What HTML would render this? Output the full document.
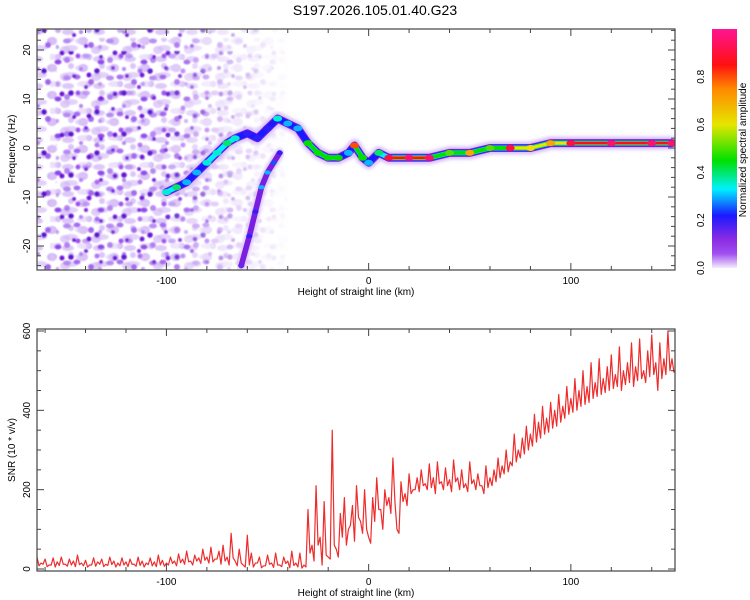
<!DOCTYPE html>
<html><head><meta charset="utf-8"><style>
body{margin:0;background:#fff;}
svg{display:block;font-family:"Liberation Sans",sans-serif;}
</style></head><body>
<svg id="chart" width="750" height="600" viewBox="0 0 750 600">
<defs>
<filter id="blur1"><feGaussianBlur stdDeviation="1.6"/></filter>
<filter id="blur2"><feGaussianBlur stdDeviation="0.8"/></filter>
<pattern id="noiseA" width="31" height="27" patternUnits="userSpaceOnUse">
<ellipse cx="6" cy="5" rx="6" ry="3" fill="#dcc6f8"/><ellipse cx="21" cy="14" rx="5" ry="4" fill="#d2b6f6"/><ellipse cx="9" cy="21" rx="7" ry="3" fill="#e2d0fa"/><circle cx="27" cy="3" r="3" fill="#c8a8f4"/>
</pattern>
<pattern id="noiseB" width="43" height="37" patternUnits="userSpaceOnUse">
<circle cx="5" cy="8" r="3" fill="#a064ee"/><ellipse cx="24" cy="4" rx="4" ry="2.5" fill="#b488f2"/><circle cx="35" cy="19" r="2.5" fill="#9b4cf0"/>
<ellipse cx="15" cy="25" rx="3.5" ry="2.5" fill="#8e44ec"/><circle cx="38" cy="32" r="2" fill="#b080f0"/>
</pattern>
<pattern id="noiseC" width="53" height="41" patternUnits="userSpaceOnUse">
<circle cx="9" cy="12" r="2.5" fill="#6a10d8"/><circle cx="33" cy="5" r="2" fill="#7a20e0"/><circle cx="44" cy="30" r="2.8" fill="#5f0fd0"/><circle cx="21" cy="35" r="2" fill="#7418dc"/>
</pattern>
<linearGradient id="fadeg" x1="0" x2="1" y1="0" y2="0">
<stop offset="0" stop-color="#fff" stop-opacity="1"/><stop offset="0.5" stop-color="#fff" stop-opacity="0.95"/><stop offset="0.75" stop-color="#fff" stop-opacity="0.4"/><stop offset="1" stop-color="#fff" stop-opacity="0"/>
</linearGradient>
<mask id="fadem"><rect x="37" y="29" width="253" height="241" fill="url(#fadeg)"/></mask>
<linearGradient id="cbar" x1="0" x2="0" y1="1" y2="0">
<stop offset="0" stop-color="#f4ecfd"/><stop offset="0.06" stop-color="#a050f0"/><stop offset="0.12" stop-color="#8a2be2"/>
<stop offset="0.22" stop-color="#1a1aff"/><stop offset="0.33" stop-color="#00f0ff"/><stop offset="0.45" stop-color="#00e000"/>
<stop offset="0.6" stop-color="#e6e600"/><stop offset="0.75" stop-color="#ff8800"/><stop offset="0.85" stop-color="#ff1010"/><stop offset="1" stop-color="#ff1493"/>
</linearGradient>
<clipPath id="clipTop"><rect x="37" y="29" width="638" height="241"/></clipPath>
<clipPath id="clipBot"><rect x="37" y="329" width="638" height="242"/></clipPath>
</defs>
<text x="375" y="15" text-anchor="middle" font-size="14">S197.2026.105.01.40.G23</text>
<g id="top"></g>
<g id="cb"></g>
<g id="bot"></g>
</svg>
<script>
// ---- data ----
const ridgeHeights = [-100,-95,-90,-85,-80,-75,-70,-66,-60,-55,-50,-45,-40,-35,-30,-25,-20,-15,-10,-7,-3,0,5,10,20,30,40,50,60,70,80,90,100,120,140,150];
const ridgeFreqs   = [-9,-8,-7,-5,-3,-1,1,2,3,2,4,6,5,4,1,-1,-2,-2,-1,0.5,-2,-3,-1,-2,-2,-2,-1,-1,0,0,0,1,1,1,1,1];
const ridgeAmps    = [0.35,0.4,0.3,0.3,0.35,0.35,0.4,0.35,0.2,0.2,0.2,0.35,0.3,0.3,0.45,0.45,0.45,0.45,0.3,0.8,0.45,0.3,0.4,0.9,0.95,0.95,0.5,0.7,0.5,0.9,0.6,0.7,0.9,0.95,0.95,0.95];
const branchHeights = [-63,-59,-56,-53,-50,-47,-44];
const branchFreqs   = [-24,-18,-13,-8,-5,-3,-1];
const branchAmps    = [0.15,0.2,0.2,0.3,0.3,0.25,0.2];
const snrStart = -164, snrStep = 2;
const snrValues = [30,15,25,10,28,18,30,12,25,20,35,15,22,10,28,18,25,12,30,20,15,28,18,25,12,30,20,15,28,18,35,22,15,30,20,38,25,45,20,35,28,50,30,55,25,45,60,30,90,20,50,10,85,40,15,30,8,35,15,40,10,30,20,45,15,40,10,150,60,210,80,170,30,350,50,140,180,100,160,210,120,200,80,180,230,150,200,180,280,100,220,190,240,200,230,250,215,265,230,270,220,255,225,275,230,250,215,270,225,240,210,260,230,250,280,260,300,270,340,300,330,360,340,390,370,410,380,420,400,440,410,460,430,480,450,500,460,520,470,530,480,510,540,490,560,500,520,570,510,580,500,550,590,520,570,530,600,530];
const snrLow = [8,12,6,10,5,9,12,7,10,6,11,8,5,10,7,12,6,9,11,5,8,10,6,12,7,9,5,11,8,6,10,7,
10,14,8,16,12,18,10,20,14,22,15,18,25,12,20,10,28,8,15,5,
10,5,15,3,8,12,4,10,6,14,3,9,5,2,
5,40,20,60,10,35,25,
60,30,80,60,110,70,130,90,100,65,
120,150,100,160,140,170,90,170,160,190,
200,195,210,200,205,190,215,200,210,195,220,200,205,195,215,200,210,190,205,210,
220,230,240,245,260,270,280,290,300,310,320,330,340,345,355,360,370,380,390,395,
400,410,415,420,430,435,440,445,450,455,460,450,465,470,460,475,480,470,485,490,450,480,490,500,495];
const xTickLabels = [-100,0,100];
const fTickLabels = [-20,-10,0,10,20];
const snrTickLabels = [0,200,400,600];
const cbTickLabels = [0.0,0.2,0.4,0.6,0.8];

// ---- axes ----
const X0=37, X1=675;
const xMin=-164, xMax=151.5;
const xs = v => X0 + (v - xMin)/(xMax - xMin)*(X1 - X0);
const fs = v => 148 - v*4.9;
const ss = v => 569 - v*(238/600);
const cs = v => 268 - v*239;
const NS="http://www.w3.org/2000/svg";
function mk(tag, attrs, parent){const e=document.createElementNS(NS,tag);for(const k in attrs)e.setAttribute(k,attrs[k]);parent.appendChild(e);return e;}
function cmap(a){
  const st=[[0,[244,236,253]],[0.06,[160,80,240]],[0.12,[138,43,226]],[0.22,[26,26,255]],[0.33,[0,240,255]],[0.45,[0,224,0]],[0.6,[230,230,0]],[0.75,[255,136,0]],[0.85,[255,16,16]],[1,[255,20,147]]];
  a=Math.max(0,Math.min(1,a));
  for(let i=1;i<st.length;i++){if(a<=st[i][0]){const t=(a-st[i-1][0])/(st[i][0]-st[i-1][0]);const c=st[i-1][1].map((v,j)=>Math.round(v+(st[i][1][j]-v)*t));return `rgb(${c})`;}}
  return 'rgb(255,20,147)';
}

const topG=document.getElementById('top');
// noise background (texture)
const nz=mk('g',{'clip-path':'url(#clipTop)'},topG);


const nzm=mk('g',{mask:'url(#fadem)',filter:'url(#blur2)'},nz);
mk('rect',{x:37,y:29,width:253,height:241,fill:'url(#noiseA)'},nzm);
mk('rect',{x:37,y:29,width:253,height:241,fill:'url(#noiseA)',transform:'translate(13,9)',opacity:'0.7'},nzm);
mk('rect',{x:37,y:29,width:253,height:241,fill:'url(#noiseB)'},nzm);
mk('rect',{x:37,y:29,width:253,height:241,fill:'url(#noiseB)',transform:'translate(19,15)',opacity:'0.8'},nzm);
mk('rect',{x:37,y:29,width:253,height:241,fill:'url(#noiseC)'},nzm);
mk('rect',{x:37,y:29,width:253,height:241,fill:'url(#noiseC)',transform:'translate(27,22)'},nzm);

function drawRidge(H,F,A,name,w){
  const g=mk('g',{'clip-path':'url(#clipTop)'},topG);
  
  
  const pts=H.map((h,i)=>xs(h)+','+fs(F[i])).join(' ');
  mk('polyline',{points:pts,fill:'none',stroke:'#d8c0f8',"stroke-width":13*w,"stroke-linejoin":'round',"stroke-linecap":'round',filter:'url(#blur1)'},g);
  mk('polyline',{points:pts,fill:'none',stroke:'#7a1fe0',"stroke-width":8*w,"stroke-linejoin":'round',"stroke-linecap":'round'},g);
  if(w>0.8)mk('polyline',{points:pts,fill:'none',stroke:'#1a1aff',"stroke-width":6,"stroke-linejoin":'round',"stroke-linecap":'round'},g);
  const layers=[[0.33,5],[0.45,4],[0.6,3.2],[0.75,2.8],[0.85,2.6]];
  for(let i=0;i<H.length-1;i++){
    const a=Math.min(A[i],A[i+1]);
    layers.forEach(([lv,sw])=>{
      if(a<lv)return;
      const s1=mk('line',{x1:xs(H[i]),y1:fs(F[i]),x2:xs(H[i+1]),y2:fs(F[i+1]),stroke:cmap(lv),"stroke-width":sw,"stroke-linecap":'round'},g);
      
      
    });
  }
  H.forEach((h,i)=>{
    const c=mk('ellipse',{cx:xs(h),cy:fs(F[i]),rx:4.5*w,ry:3*w,fill:cmap(A[i])},g);
    
    
  });
}
drawRidge(branchHeights,branchFreqs,branchAmps,'secondary-ridge',0.7);
drawRidge(ridgeHeights,ridgeFreqs,ridgeAmps,'main-ridge',1);

function frame(parent,y0,y1,nameX){
  const f=mk('rect',{x:X0,y:y0,width:X1-X0,height:y1-y0,fill:'none',stroke:'#444',"stroke-width":1.2},parent);
  
  
  for(let v=-160;v<=150;v+=20){
    const x=xs(v);const major=(v%100===0);const L=major?7:4;
    mk('line',{x1:x,y1:y1,x2:x,y2:y1-L,stroke:'#444'},parent);
    mk('line',{x1:x,y1:y0,x2:x,y2:y0+L,stroke:'#444'},parent);
  }
  xTickLabels.forEach(v=>{
    const t=mk('text',{x:xs(v),y:y1+14,"text-anchor":'middle',"font-size":10},parent);t.textContent=v;
    
    
  });
  const xt=mk('text',{x:356,y:y1+25,"text-anchor":'middle',"font-size":10},parent);xt.textContent='Height of straight line (km)';
  
  
}
frame(topG,29,270,'x-axis-title');
for(let v=-24;v<=24;v+=2){
  const y=fs(v);const L=(v%10===0)?7:4;
  mk('line',{x1:X0,y1:y,x2:X0+L,y2:y,stroke:'#444'},topG);
  mk('line',{x1:X1,y1:y,x2:X1-L,y2:y,stroke:'#444'},topG);
}
fTickLabels.forEach(v=>{
  const t=mk('text',{x:0,y:0,"text-anchor":'middle',"font-size":10,transform:`translate(30,${fs(v)}) rotate(-90)`},topG);t.textContent=v;
  
  
});
const yt=mk('text',{x:0,y:0,"text-anchor":'middle',"font-size":10,transform:'translate(15,149) rotate(-90)'},topG);yt.textContent='Frequency (Hz)';



// colorbar
const cb=document.getElementById('cb');
const cbr=mk('rect',{x:712,y:29,width:25,height:239,fill:'url(#cbar)'},cb);


cbTickLabels.forEach(v=>{
  const t=mk('text',{x:0,y:0,"text-anchor":'middle',"font-size":10,transform:`translate(704,${cs(v)}) rotate(-90)`},cb);t.textContent=v.toFixed(1);
  
  
});
const ct=mk('text',{x:0,y:0,"text-anchor":'middle',"font-size":10,transform:'translate(746,150) rotate(-90)'},cb);ct.textContent='Normalized spectral amplitude';



// bottom
const bot=document.getElementById('bot');
const ptsArr=[];
snrValues.forEach((v,i)=>{
  const h=snrStart+i*snrStep;
  ptsArr.push(xs(h)+','+ss(v));
  if(i<snrLow.length)ptsArr.push(xs(h+snrStep/2)+','+ss(snrLow[i]));
});
const gl=mk('g',{'clip-path':'url(#clipBot)'},bot);
const ln=mk('polyline',{points:ptsArr.join(' '),fill:'none',stroke:'#ee2c2c',"stroke-width":1.2,"stroke-linejoin":'round'},gl);


frame(bot,329,571,'x-axis-title-bottom');
for(let v=0;v<=600;v+=50){
  const y=ss(v);const L=(v%200===0)?7:4;
  mk('line',{x1:X0,y1:y,x2:X0+L,y2:y,stroke:'#444'},bot);
  mk('line',{x1:X1,y1:y,x2:X1-L,y2:y,stroke:'#444'},bot);
}
snrTickLabels.forEach(v=>{
  const t=mk('text',{x:0,y:0,"text-anchor":'middle',"font-size":10,transform:`translate(30,${ss(v)}) rotate(-90)`},bot);t.textContent=v;
  
  
});
const stt=mk('text',{x:0,y:0,"text-anchor":'middle',"font-size":10,transform:'translate(15,450) rotate(-90)'},bot);stt.textContent='SNR (10 * v/v)';


</script>
</body></html>
